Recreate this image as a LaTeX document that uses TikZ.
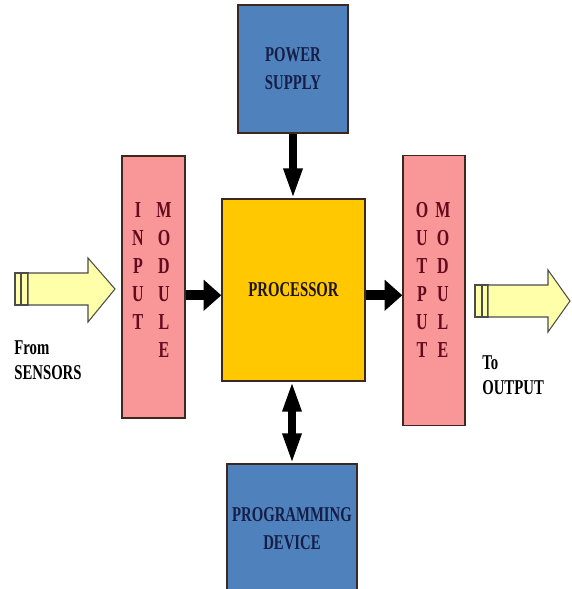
\documentclass[tikz,border=0pt]{standalone}
\usepackage{fontspec}
\setmainfont[FakeStretch=0.7]{Liberation Serif}
\usetikzlibrary{arrows.meta, positioning}
\definecolor{blockpink}{RGB}{248,150,152}
\definecolor{blockblue}{RGB}{79,129,189}
\definecolor{procgold}{RGB}{255,200,0}
\definecolor{arrowyellow}{RGB}{255,255,170}
\definecolor{modtext}{RGB}{100,10,30}
\definecolor{bluetext}{RGB}{20,30,70}
\definecolor{boxedge}{RGB}{60,40,30}

\begin{document}
\begin{tikzpicture}[x=0.02cm, y=-0.02cm,
    font=\bfseries\fontsize{12}{16}\selectfont,
    blockbox/.style={draw=boxedge, thick, inner sep=0pt},
    modletter/.style={text=modtext, inner sep=0pt, font=\bfseries\fontsize{13}{16}\selectfont},
    vtip/.tip={Triangle[length=17pt, width=10pt]},
    htip/.tip={Triangle[length=10pt, width=17pt]},
    vflow/.style={line width=4pt, -vtip},
    hflow/.style={line width=5.5pt, -htip},
    fatarrow/.style={draw=black!70, fill=arrowyellow, line width=0.6pt}]
  \useasboundingbox (0,0) rectangle (572,589);
  \clip (0,0) rectangle (572,589);

  % blocks
  \node[blockbox, fill=blockblue, minimum width=2.2cm, minimum height=2.56cm,
        align=center, text=bluetext] (power) at (293,69) {POWER\\SUPPLY};
  \node[blockbox, fill=procgold, minimum width=2.86cm, minimum height=3.64cm,
        text=black!85!brown] (proc) at (293.5,290) {PROCESSOR};
  \node[blockbox, fill=blockpink, minimum width=1.26cm, minimum height=5.24cm]
        (inmod) at (153.5,287) {};
  \node[blockbox, fill=blockpink, minimum width=1.24cm, minimum height=5.4cm]
        (outmod) at (434,290.5) {};
  \node[blockbox, fill=blockblue, minimum width=2.6cm, minimum height=2.6cm,
        align=center, text=bluetext] (prog) at (292,529) {PROGRAMMING\\DEVICE};

  % stacked letters
  \foreach \c [count=\i] in {I,N,P,U,T}
    \node[modletter] (in-a-\i) at (138,182+28*\i) {\c};
  \foreach \c [count=\i] in {M,O,D,U,L,E}
    \node[modletter] (in-b-\i) at (164,182+28*\i) {\c};
  \foreach \c [count=\i] in {O,U,T,P,U,T}
    \node[modletter] (out-a-\i) at (422,182+28*\i) {\c};
  \foreach \c [count=\i] in {M,O,D,U,L,E}
    \node[modletter] (out-b-\i) at (443,182+28*\i) {\c};

  % connectors
  \draw[vflow] (power.south) -- (power.south |- proc.north);
  \draw[hflow] ([yshift=-3pt]inmod.east |- proc.west) -- ([yshift=-3pt]proc.west);
  \draw[hflow] ([yshift=-3pt]proc.east) -- ([yshift=-3pt]proc.east -| outmod.west);
  \draw[vflow, vtip-vtip] (prog.north) -- (prog.north |- proc.south);

  % fat arrows
  \filldraw[fatarrow] (15,273) rectangle (21,305);
  \filldraw[fatarrow] (21,273) rectangle (28,305);
  \filldraw[fatarrow] (28,273) -- (88,273) -- (88,258) -- (115,289)
    -- (88,322) -- (88,305) -- (28,305) -- cycle;
  \filldraw[fatarrow] (475,285) rectangle (482,317);
  \filldraw[fatarrow] (482,285) rectangle (488,317);
  \filldraw[fatarrow] (488,285) -- (548,285) -- (548,270) -- (570,301)
    -- (548,332) -- (548,317) -- (488,317) -- cycle;

  % labels
  \node[align=left, anchor=north west, inner sep=0pt,
        font=\bfseries\fontsize{12}{14.5}\selectfont] (fromtxt) at (14,340) {From\\SENSORS};
  \node[align=left, anchor=north west, inner sep=0pt,
        font=\bfseries\fontsize{12}{14.5}\selectfont] (totxt) at (482,355) {To\\OUTPUT};
\end{tikzpicture}
\end{document}
